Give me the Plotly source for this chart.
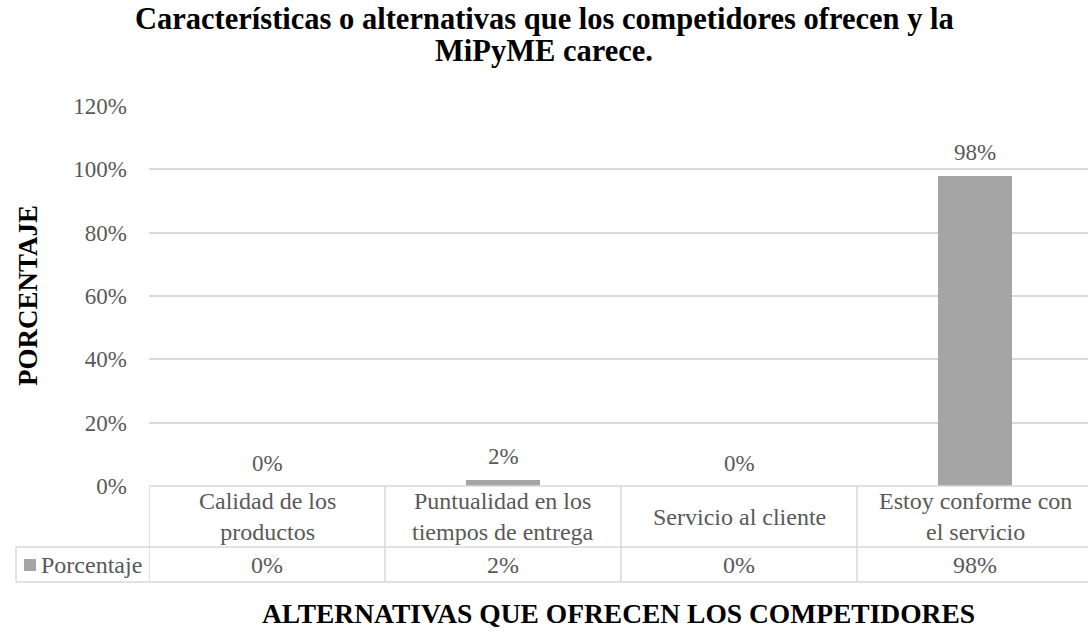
import plotly.graph_objects as go

# Survey results: features competitors offer that the MiPyME lacks
categories = [
    "Calidad de los<br>productos",
    "Puntualidad en los<br>tiempos de entrega",
    "Servicio al cliente",
    "Estoy conforme con<br>el servicio",
]
porcentaje = [0.00, 0.02, 0.00, 0.98]
series_name = "Porcentaje"
y_ticks = [0, 0.2, 0.4, 0.6, 0.8, 1.0, 1.2]

FONT = "Liberation Serif"
GREY_TEXT = "#595959"
BAR = "#a5a5a5"
GRID = "#d9d9d9"

W, H = 1088, 634
M_L, M_R, M_T, M_B = 149, 0, 106, 148
plot_h = H - M_T - M_B


def py(pix):
    """Pixel row -> paper y coordinate."""
    return (H - M_B - pix) / plot_h


def px(pix):
    """Pixel column -> paper x coordinate."""
    return (pix - M_L) / (W - M_L - M_R)


xs = list(range(len(categories)))

fig = go.Figure(
    go.Bar(
        x=xs,
        y=porcentaje,
        marker=dict(color=BAR, line=dict(width=0)),
        width=0.31,
        name=series_name,
        hoverinfo="skip",
    )
)

annotations = []

# value labels above each column
for x, v in zip(xs, porcentaje):
    annotations.append(dict(
        x=x, y=v, xref="x", yref="y", text=f"{v*100:.0f}%",
        showarrow=False, yanchor="middle", yshift=23,
        font=dict(family=FONT, size=23, color=GREY_TEXT),
    ))

# data table: category row and value row
row_cat_y = py(516.5)
row_val_y = py(564.5)
for x, c, v in zip(xs, categories, porcentaje):
    annotations.append(dict(
        x=x, y=row_cat_y, xref="x", yref="paper", text=c,
        showarrow=False, yanchor="middle", xanchor="center",
        font=dict(family=FONT, size=24, color=GREY_TEXT),
    ))
    annotations.append(dict(
        x=x, y=row_val_y, xref="x", yref="paper", text=f"{v*100:.0f}%",
        showarrow=False, yanchor="middle", xanchor="center",
        font=dict(family=FONT, size=24, color=GREY_TEXT),
    ))

# series key in the table's first column
annotations.append(dict(
    x=px(39), y=row_val_y, xref="paper", yref="paper", text=series_name,
    showarrow=False, xanchor="left", yanchor="middle",
    font=dict(family=FONT, size=24, color=GREY_TEXT),
))

# titles
annotations += [
    dict(x=px(544), y=py(19), xref="paper", yref="paper",
         text="<b>Características o alternativas que los competidores ofrecen y la</b>",
         showarrow=False, yanchor="middle",
         font=dict(family=FONT, size=30.5, color="#000000")),
    dict(x=px(544), y=py(51), xref="paper", yref="paper",
         text="<b>MiPyME carece.</b>",
         showarrow=False, yanchor="middle",
         font=dict(family=FONT, size=30.5, color="#000000")),
    dict(x=0.5, y=py(613), xref="paper", yref="paper",
         text="<b>ALTERNATIVAS QUE OFRECEN LOS COMPETIDORES</b>",
         showarrow=False, yanchor="middle",
         font=dict(family=FONT, size=27.5, color="#000000")),
    dict(x=px(28), y=py(296), xref="paper", yref="paper",
         text="<b>PORCENTAJE</b>", textangle=-90,
         showarrow=False, xanchor="center", yanchor="middle",
         font=dict(family=FONT, size=27, color="#000000")),
]

# table borders
line = dict(color=GRID, width=1.5)
shapes = [
    dict(type="line", xref="paper", yref="paper", x0=0, x1=1, y0=py(486), y1=py(486), line=line),
    dict(type="line", xref="paper", yref="paper", x0=px(16), x1=1, y0=py(547), y1=py(547), line=line),
    dict(type="line", xref="paper", yref="paper", x0=px(16), x1=1, y0=py(582), y1=py(582), line=line),
    dict(type="line", xref="paper", yref="paper", x0=px(16), x1=px(16), y0=py(547), y1=py(582), line=line),
]
for b in [-0.5, 0.5, 1.5, 2.5]:
    shapes.append(dict(type="line", xref="x", yref="paper", x0=b, x1=b,
                       y0=py(486), y1=py(582), line=line))
# legend key square
shapes.append(dict(type="rect", xref="paper", yref="paper",
                   x0=px(24), x1=px(36), y0=py(571), y1=py(559),
                   fillcolor=BAR, line=dict(width=0)))

fig.update_layout(
    width=W, height=H,
    margin=dict(l=M_L, r=M_R, t=M_T, b=M_B),
    paper_bgcolor="white", plot_bgcolor="white",
    showlegend=False,
    bargap=0,
    annotations=annotations,
    shapes=shapes,
    xaxis=dict(range=[-0.5, 3.5 - 5 / 236], showticklabels=False, showgrid=False,
               zeroline=False, showline=False, ticks=""),
    yaxis=dict(range=[0, 1.2], tickvals=y_ticks, tickformat=".0%",
               showgrid=True, gridcolor=GRID, gridwidth=1.5, zeroline=False,
               showline=False, ticks="", ticklabelstandoff=21,
               tickfont=dict(family=FONT, size=23, color=GREY_TEXT)),
)

fig.write_html("out.html")
